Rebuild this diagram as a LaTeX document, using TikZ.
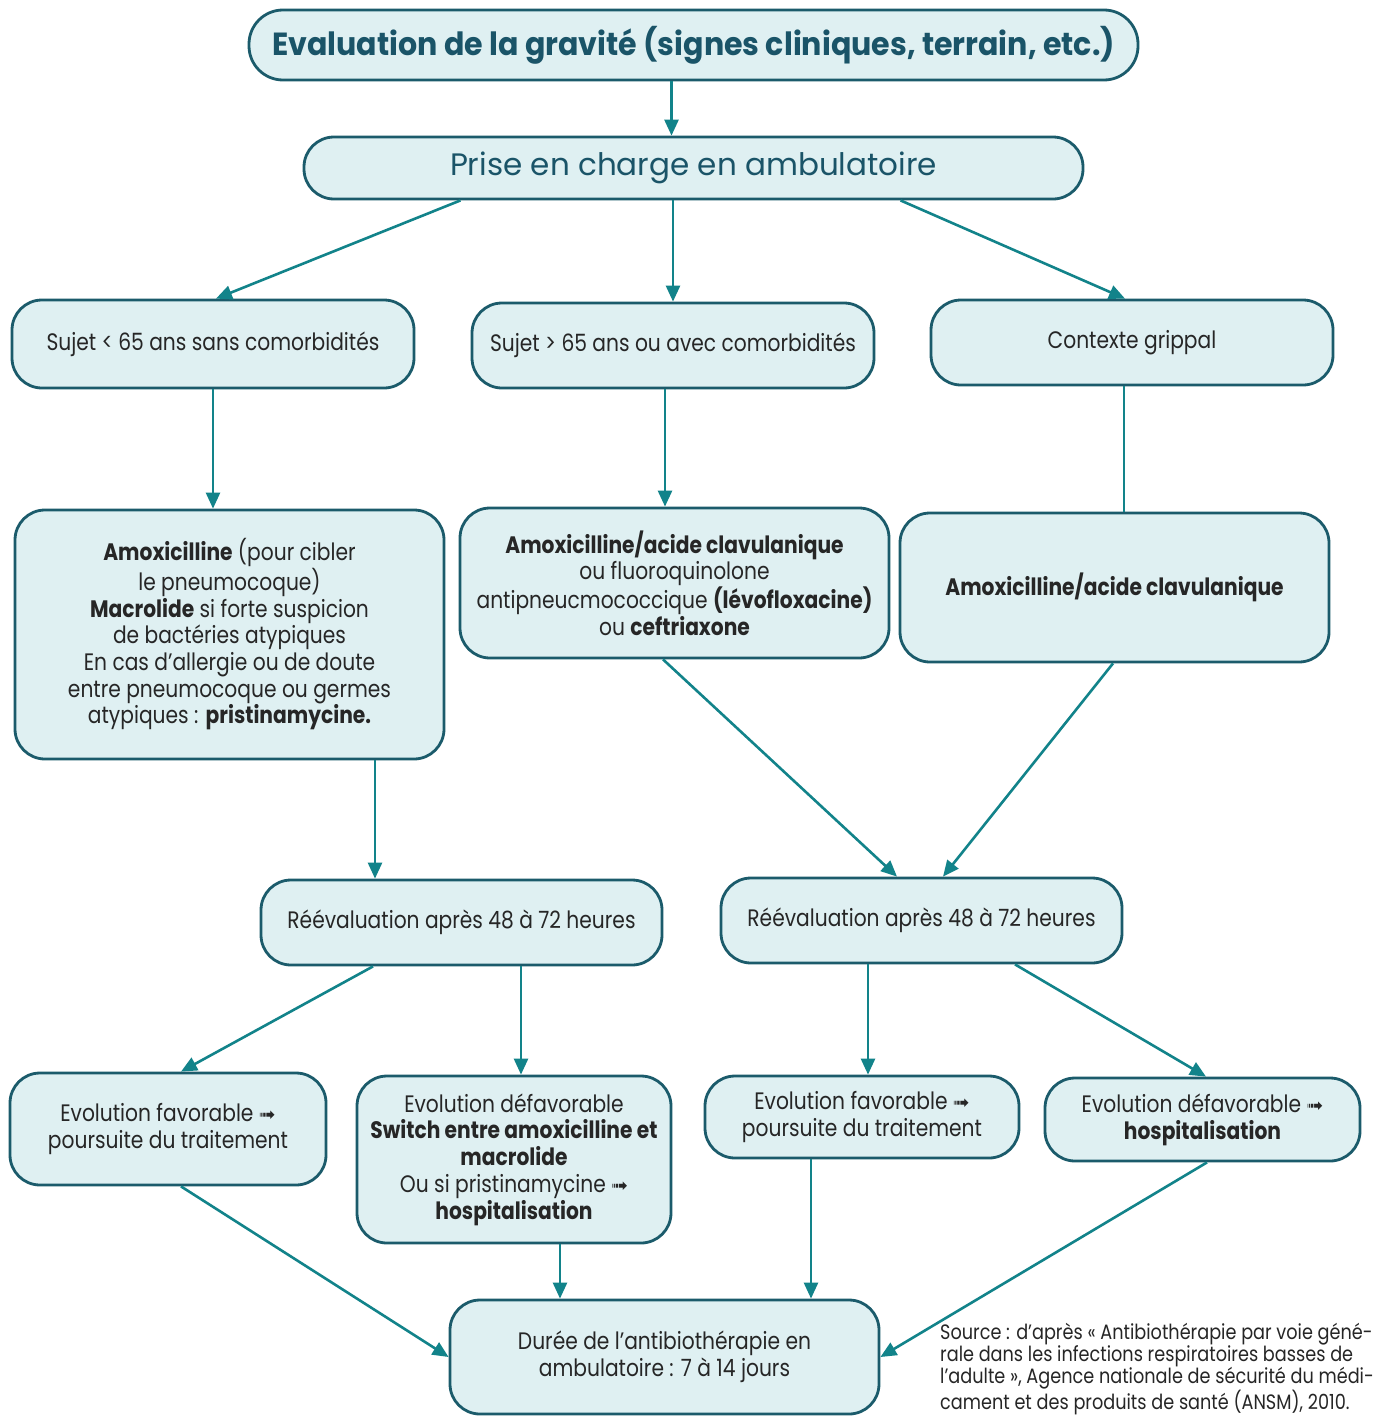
\documentclass[tikz,border=0pt]{standalone}
\usepackage{fontspec}
\setmainfont[FakeStretch=0.85]{Poppins}
\newfontfamily\titlefont[FakeStretch=0.94]{Poppins}
\newfontfamily\prisefont[FakeStretch=1.0]{Poppins}
\newfontfamily\symfont{DejaVu Sans}
\usetikzlibrary{arrows.meta}
\definecolor{boxfill}{HTML}{DFF0F2}
\definecolor{boxdraw}{HTML}{1B5B6B}
\definecolor{arrowc}{HTML}{12838A}
\definecolor{titlec}{HTML}{1A5468}
\definecolor{textc}{HTML}{262626}
\newcommand\harr{{\symfont\fontsize{20}{20}\selectfont ➟}}
\begin{document}
\begin{tikzpicture}[x=1pt,y=-1pt,
  box/.style={draw=boxdraw, fill=boxfill, line width=2.8pt, rounded corners=30pt,
    align=center, text=textc, font=\fontsize{23.8}{26.7}\selectfont, inner sep=0pt},
  conn/.style={draw=arrowc, line width=2.6pt, -{Triangle[length=16pt,width=14pt]}},
  plainconn/.style={draw=arrowc, line width=2.6pt}]
\useasboundingbox[fill=white] (0,0) rectangle (1375,1416);

\node[box, minimum width=889pt, minimum height=70pt, rounded corners=34pt, text=titlec,
  font=\titlefont\fontsize{32}{36}\selectfont\bfseries] (title) at (693.5,45)
  {Evaluation de la gravité (signes cliniques, terrain, etc.)};
\node[box, minimum width=779pt, minimum height=62pt, text=titlec,
  font=\prisefont\fontsize{31}{34}\selectfont] (prise) at (693.5,168)
  {Prise en charge en ambulatoire};

\node[box, minimum width=402pt, minimum height=88pt] (sujA) at (213,344)
  {Sujet < 65 ans sans comorbidités};
\node[box, minimum width=402pt, minimum height=85pt] (sujB) at (673,345.5)
  {Sujet > 65 ans ou avec comorbidités};
\node[box, minimum width=402pt, minimum height=85pt] (ctx) at (1132,342.5)
  {Contexte grippal};

\node[box, minimum width=429pt, minimum height=249pt] (amoxA) at (229.5,634.5)
  {\textbf{Amoxicilline} (pour cibler\\le pneumocoque)\\\textbf{Macrolide} si forte suspicion\\de bactéries atypiques\\En cas d’allergie ou de doute\\entre pneumocoque ou germes\\atypiques : \textbf{pristinamycine.}};
\node[box, minimum width=429pt, minimum height=150pt] (amoxB) at (674.5,583)
  {\textbf{Amoxicilline/acide clavulanique}\\ou fluoroquinolone\\antipneucmococcique \textbf{(lévofloxacine)}\\ou \textbf{ceftriaxone}};
\node[box, minimum width=429pt, minimum height=149pt] (amoxC) at (1114.5,587.5)
  {\textbf{Amoxicilline/acide clavulanique}};

\node[box, minimum width=401pt, minimum height=85pt] (reevA) at (461.5,922.5)
  {Réévaluation après 48 à 72 heures};
\node[box, minimum width=401pt, minimum height=85pt] (reevB) at (921.5,920.5)
  {Réévaluation après 48 à 72 heures};

\node[box, minimum width=316pt, minimum height=112pt] (favA) at (168,1129)
  {Evolution favorable \harr\\poursuite du traitement};
\node[box, minimum width=314pt, minimum height=167pt] (defA) at (514,1159.5)
  {Evolution défavorable\\\textbf{Switch entre amoxicilline et}\\\textbf{macrolide}\\Ou si pristinamycine \harr\\\textbf{hospitalisation}};
\node[box, minimum width=314pt, minimum height=82pt] (favB) at (862,1117)
  {Evolution favorable \harr\\poursuite du traitement};
\node[box, minimum width=315pt, minimum height=83pt] (defB) at (1202.5,1119.5)
  {Evolution défavorable \harr\\\textbf{hospitalisation}};

\node[box, minimum width=429pt, minimum height=114pt] (duree) at (664.5,1357)
  {Durée de l’antibiothérapie en\\ambulatoire : 7 à 14 jours};

\node[anchor=north west, align=left, inner sep=0pt, text=textc,
  font=\fontsize{20.8}{21.6}\selectfont] (source) at (940,1323)
  {Source : d’après «~Antibiothérapie par voie géné-\\rale dans les infections respiratoires basses de\\l’adulte~», Agence nationale de sécurité du médi-\\cament et des produits de santé (ANSM), 2010.};

% connectors
\draw[conn] ([xshift=-22pt]title.south) -- ([xshift=-22pt]prise.north);
\draw[conn] ([xshift=-233pt]prise.south) -- ([xshift=3pt]sujA.north);
\draw[conn] (sujB.north |- prise.south) -- (sujB.north);
\draw[conn] ([xshift=207pt]prise.south) -- ([xshift=-7pt]ctx.north);

\draw[conn] (sujA.south) -- (sujA.south |- amoxA.north);
\draw[conn] ([xshift=-8pt]sujB.south) -- ([xshift=-8pt]sujB.south |- amoxB.north);
\draw[plainconn] ([xshift=-8pt]ctx.south) -- ([xshift=-8pt]ctx.south |- amoxC.north);

\draw[conn] ([xshift=145.5pt]amoxA.south) -- ([xshift=145.5pt]amoxA.south |- reevA.north);
\draw[conn] ([xshift=-11.5pt]amoxB.south) -- ([xshift=-24.5pt]reevB.north);
\draw[conn] ([xshift=-1.5pt]amoxC.south) -- ([xshift=21.5pt]reevB.north);

\draw[conn] ([xshift=-88.5pt]reevA.south) -- ([xshift=13pt]favA.north);
\draw[conn] ([xshift=59.5pt]reevA.south) -- ([xshift=59.5pt]reevA.south |- defA.north);
\draw[conn] ([xshift=-53.5pt]reevB.south) -- ([xshift=-53.5pt]reevB.south |- favB.north);
\draw[conn] ([xshift=93.5pt]reevB.south) -- ([xshift=3.5pt]defB.north);

\draw[conn] ([xshift=13pt]favA.south) -- (duree.west);
\draw[conn] ([xshift=46pt]defA.south) -- ([xshift=46pt]defA.south |- duree.north);
\draw[conn] ([xshift=-51pt]favB.south) -- ([xshift=-51pt]favB.south |- duree.north);
\draw[conn] ([xshift=4.5pt]defB.south) -- (duree.east);
\end{tikzpicture}
\end{document}
